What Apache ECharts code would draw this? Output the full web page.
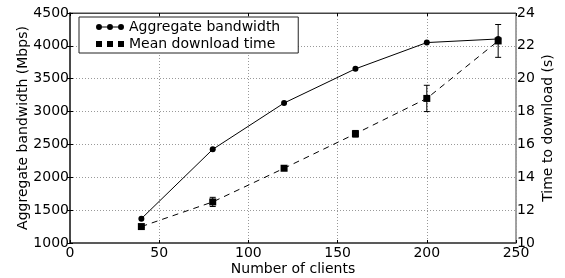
<!DOCTYPE html>
<html>
<head>
<meta charset="utf-8">
<script src="https://cdn.jsdelivr.net/npm/echarts@6/dist/echarts.min.js"></script>
<style>
  body { margin: 0; background: #fff; }
  #chart { width: 565px; height: 278px; }
</style>
</head>
<body>
<div id="chart"></div>
<script>
// number of clients
var clients = [40, 80, 120, 160, 200, 240]
// aggregate bandwidth (Mbps), left axis
var bandwidth = [1370, 2425, 3130, 3650, 4050, 4105]
// mean download time (s), right axis
var downloadTime = [11.0, 12.5, 14.55, 16.65, 18.8, 22.3]
// error (+/-) on download time
var downloadErr = [0.05, 0.28, 0.12, 0.2, 0.8, 1.0]

var bwData = []
var dtData = []
var errData = []
for (var i = 0; i < clients.length; i++) {
  bwData.push([clients[i], bandwidth[i]])
  dtData.push([clients[i], downloadTime[i]])
  errData.push([clients[i], downloadTime[i] - downloadErr[i], downloadTime[i] + downloadErr[i]])
}

var font = 'DejaVu Sans'
var fs = 14
var axisCol = '#444'

// legend handles like matplotlib (3 markers per handle)
var circIcon = 'path://M0,4a3,3 0 1,0 6,0a3,3 0 1,0 -6,0z M6,3.5h5v1h-5z M11,4a3,3 0 1,0 6,0a3,3 0 1,0 -6,0z M17,3.5h5v1h-5z M22,4a3,3 0 1,0 6,0a3,3 0 1,0 -6,0z'
var sqIcon = 'path://M0,1h6v6h-6z M11,1h6v6h-6z M22,1h6v6h-6z M0,0h0.01v8h-0.01z'

var myecharts = echarts.init(document.getElementById('chart'))
var option = {
  animation: false,
  textStyle: { fontFamily: font },
  grid: { left: 70, right: 49, top: 13, bottom: 35, show: true, borderColor: axisCol, borderWidth: 1, outerBoundsMode: 'none', containLabel: false },
  legend: {
    left: 79, top: 17,
    orient: 'vertical',
    itemWidth: 28, itemHeight: 8, itemGap: 3,
    padding: [3, 18, 2, 17],
    borderColor: '#222', borderWidth: 1, backgroundColor: '#fff',
    textStyle: { fontFamily: font, fontSize: fs, color: '#000' },
    data: [
      { name: 'Aggregate bandwidth', icon: circIcon, itemStyle: { color: '#000', borderWidth: 0 } },
      { name: 'Mean download time', icon: sqIcon, itemStyle: { color: '#000', borderWidth: 0 } }
    ]
  },
  xAxis: [{
    type: 'value', min: 0, max: 250, interval: 50,
    name: 'Number of clients', nameLocation: 'middle', nameGap: 19, nameMoveOverlap: false,
    nameTextStyle: { fontFamily: font, fontSize: fs, color: '#000' },
    axisLine: { show: true, lineStyle: { color: axisCol, width: 1.5 } },
    axisTick: { show: true, inside: true, length: 3, lineStyle: { color: '#000' } },
    axisLabel: { fontFamily: font, fontSize: fs, color: '#000', margin: 3 },
    splitLine: { show: true, lineStyle: { color: '#999', type: [1, 2] } }
  }, {
    type: 'value', min: 0, max: 250, interval: 50, position: 'top',
    axisLine: { show: true, lineStyle: { color: axisCol } },
    axisTick: { show: true, inside: true, length: 3, lineStyle: { color: '#000' } },
    axisLabel: { show: false },
    splitLine: { show: false }
  }],
  yAxis: [{
    type: 'value', min: 1000, max: 4500, interval: 500,
    name: 'Aggregate bandwidth (Mbps)', nameLocation: 'middle', nameGap: 40, nameMoveOverlap: false,
    nameTextStyle: { fontFamily: font, fontSize: fs, color: '#000' },
    axisLine: { show: true, lineStyle: { color: axisCol, width: 1.5 } },
    axisTick: { show: true, inside: false, length: 3, lineStyle: { color: '#000' } },
    axisLabel: { fontFamily: font, fontSize: fs, color: '#000', margin: 1, formatter: function (v) { return String(v) } },
    splitLine: { show: true, lineStyle: { color: '#999', type: [1, 2] } }
  }, {
    type: 'value', min: 10, max: 24, interval: 2,
    name: 'Time to download (s)', nameLocation: 'middle', nameGap: 25, nameMoveOverlap: false,
    nameRotate: 90,
    nameTextStyle: { fontFamily: font, fontSize: fs, color: '#000' },
    axisLine: { show: true, lineStyle: { color: axisCol, width: 1.5 } },
    axisTick: { show: true, inside: false, length: 3, lineStyle: { color: '#000' } },
    axisLabel: { fontFamily: font, fontSize: fs, color: '#000', margin: 1 },
    splitLine: { show: false }
  }],
  series: [{
    name: 'Aggregate bandwidth',
    type: 'line',
    data: bwData,
    symbol: 'circle', symbolSize: 6,
    itemStyle: { color: '#000' },
    lineStyle: { color: '#000', width: 1 }
  }, {
    name: 'Mean download time',
    type: 'line',
    yAxisIndex: 1,
    data: dtData,
    symbol: 'rect', symbolSize: 7,
    itemStyle: { color: '#000' },
    lineStyle: { color: '#000', width: 1, type: [6, 5] }
  }, {
    name: 'err',
    type: 'custom',
    yAxisIndex: 1,
    data: errData,
    renderItem: function (params, api) {
      var lo = api.coord([api.value(0), api.value(1)])
      var hi = api.coord([api.value(0), api.value(2)])
      var w = 3
      return {
        type: 'group',
        children: [
          { type: 'line', shape: { x1: lo[0], y1: lo[1], x2: hi[0], y2: hi[1] }, style: { stroke: '#000', lineWidth: 1 } },
          { type: 'line', shape: { x1: lo[0] - w, y1: lo[1], x2: lo[0] + w, y2: lo[1] }, style: { stroke: '#000', lineWidth: 1 } },
          { type: 'line', shape: { x1: hi[0] - w, y1: hi[1], x2: hi[0] + w, y2: hi[1] }, style: { stroke: '#000', lineWidth: 1 } }
        ]
      }
    },
    z: 3
  }]
}
myecharts.setOption(option)
</script>
</body>
</html>
